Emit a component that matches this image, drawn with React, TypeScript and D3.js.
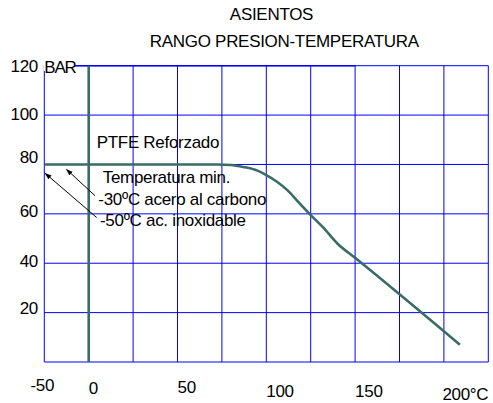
import React from "react";
import * as d3 from "d3";

const titleLines = ["ASIENTOS", "RANGO PRESION-TEMPERATURA"];
const gridTemps = [-50, 0, 25, 50, 75, 100, 125, 150, 175, 200, 225];
const gridBars = [0, 20, 40, 60, 80, 100, 120];
const yTickValues = [120, 100, 80, 60, 40, 20];
const yTickLabels = ["120", "100", "80", "60", "40", "20"];
const xTickValues = [-50, 0, 50, 100, 150, 200];
const xTickLabels = ["-50", "0", "50", "100", "150", "200°C"];
const curveTemp = [-50, 72, 80, 87, 95, 100, 106, 112, 119, 125, 132, 140, 150, 209];
const curveBar = [80, 80, 79.8, 79, 77.5, 75.7, 73, 69.5, 64, 59.5, 54.5, 48, 42.2, 7];
const noteLines = ["Temperatura min.", "-30ºC acero al carbono", "-50ºC ac. inoxidable"];
const arrowTip = [[-25, 78], [-49, 76.4]];
const arrowTail = [[3.6, 67.3], [4.5, 58.5]];

const W = 493, H = 403;
const GREEN = "#3b6b66";
const BLUE = "#0000ff";
const FONT = "'Liberation Sans', Arial, sans-serif";
const FS = 17;
const LS = -0.3;

export default function App() {
  const x = d3.scaleLinear().domain([-50, 0, 225]).range([44.3, 88.7, 488.3]);
  const y = d3.scaleLinear().domain([0, 120]).range([362, 65.7]);
  const line = d3
    .line<number>()
    .x((_, i) => x(curveTemp[i]))
    .y((_, i) => y(curveBar[i]))
    .curve(d3.curveMonotoneX);
  const curveD = line(curveTemp) || "";

  const yDy = [6.6, 5.4, -1, 3.3, 3.4, 1.7];
  const xBase = [390.7, 394.3, 393.3, 396.7, 396.7, 400];

  return (
    <svg
      width={W}
      height={H}
      style={{ position: "absolute", left: 0, top: 0, background: "#fff" }}
      fontFamily={FONT}
    >
      <defs>
        <marker id="ah" viewBox="0 0 10 10" refX="9" refY="5" markerWidth="7" markerHeight="7" orient="auto">
          <path d="M0,1.5 L10,5 L0,8.5 Z" fill="#000" />
        </marker>
      </defs>
      <rect x={0} y={0} width={W} height={H} fill="#fff" />
      <g fontSize={FS} letterSpacing={LS} fill="#000">
        <text x={271.5} y={19.5} textAnchor="middle">{titleLines[0]}</text>
        <text x={284.3} y={46.5} textAnchor="middle">{titleLines[1]}</text>
      </g>

      {gridTemps.map((t) => (
        <line key={"v" + t} x1={x(t)} x2={x(t)} y1={y(0)} y2={y(120)} stroke={BLUE} strokeWidth={1} />
      ))}
      {gridBars.map((b) => (
        <line key={"h" + b} x1={x(-50)} x2={x(225)} y1={y(b)} y2={y(b)} stroke={BLUE} strokeWidth={1} />
      ))}
      <line x1={x(-50)} x2={x(150)} y1={y(120)} y2={y(120)} stroke={BLUE} strokeWidth={1.6} />

      <rect x={x(-50) - 0.5} y={57} width={31} height={14} fill="#fff" />
      <text x={x(-50)} y={72.5} fontSize={FS} letterSpacing={-1.2} fill="#000">BAR</text>

      <g fontSize={FS} letterSpacing={LS} fill="#000">
        {yTickValues.map((v, i) => (
          <text key={"yt" + v} x={38} y={y(v) + yDy[i]} textAnchor="end">
            {yTickLabels[i]}
          </text>
        ))}
        {xTickValues.map((v, i) => (
          <text
            key={"xt" + v}
            x={i === 0 ? x(v) - 2 : x(v) + (i === 5 ? -1.5 : 0)}
            y={xBase[i]}
            textAnchor={i === 0 ? "middle" : "start"}
          >
            {xTickLabels[i]}
          </text>
        ))}
      </g>

      <line x1={x(0)} x2={x(0)} y1={y(0)} y2={y(120)} stroke={GREEN} strokeWidth={2.6} />
      <path d={curveD} fill="none" stroke={GREEN} strokeWidth={2.6} strokeLinejoin="round" />

      <g fontSize={FS} letterSpacing={LS} fill="#000">
        <text x={96.7} y={148}>PTFE Reforzado</text>
        <text x={102.7} y={182.7}>{noteLines[0]}</text>
        <text x={98.3} y={205}>{noteLines[1]}</text>
        <text x={100} y={226}>{noteLines[2]}</text>
      </g>

      {arrowTip.map((tp, i) => (
        <line
          key={"ar" + i}
          x1={x(arrowTail[i][0])}
          y1={y(arrowTail[i][1])}
          x2={x(tp[0])}
          y2={y(tp[1])}
          stroke="#000"
          strokeWidth={1}
          markerEnd="url(#ah)"
        />
      ))}
    </svg>
  );
}
